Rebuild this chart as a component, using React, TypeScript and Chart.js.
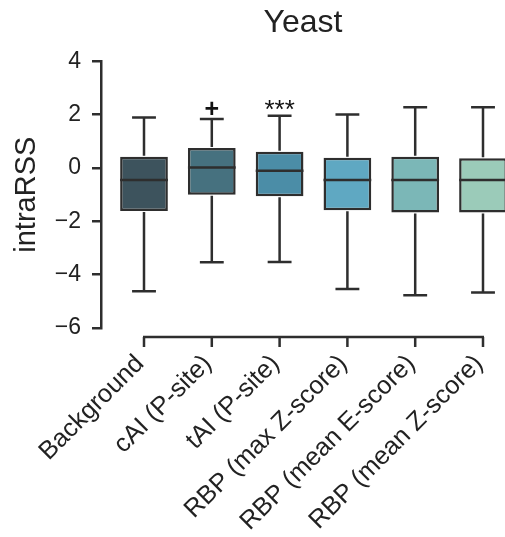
import React, { useEffect, useRef } from "react";
import { Chart, registerables } from "chart.js";

Chart.register(...registerables);

const categories = [
  "Background",
  "cAI (P-site)",
  "tAI (P-site)",
  "RBP (max Z-score)",
  "RBP (mean E-score)",
  "RBP (mean Z-score)",
];
const whiskerLow = [-4.62, -3.53, -3.52, -4.54, -4.77, -4.67];
const q1 = [-1.61, -1.0, -1.06, -1.58, -1.67, -1.67];
const median = [-0.45, 0.02, -0.1, -0.45, -0.45, -0.45];
const q3 = [0.42, 0.75, 0.61, 0.39, 0.42, 0.37];
const whiskerHigh = [1.9, 1.84, 1.96, 2.01, 2.28, 2.28];
const significance = ["", "+", "***", "", "", ""];
const boxColors = ["#3d535d", "#46717f", "#4b8da7", "#5fa8c2", "#7bb7b7", "#9bcbb9"];
const yTicks = [-6, -4, -2, 0, 2, 4];

const FONT = "'Liberation Sans', Arial, Helvetica, sans-serif";
const LINE = "#2e2e2e";
const LW = 2.5;

const boxPlugin = {
  id: "boxWhiskers",
  afterDatasetsDraw(chart: any) {
    const ctx = chart.ctx;
    const xs = chart.scales.x;
    const ys = chart.scales.y;
    const meta = chart.getDatasetMeta(0);
    ctx.save();
    ctx.strokeStyle = LINE;
    ctx.lineWidth = LW;
    ctx.lineCap = "butt";
    categories.forEach((_, i) => {
      const x = xs.getPixelForValue(i);
      const w = meta.data[i] ? meta.data[i].width : 48;
      const cap = w / 4;
      const yHi = ys.getPixelForValue(whiskerHigh[i]);
      const yQ3 = ys.getPixelForValue(q3[i]);
      const yQ1 = ys.getPixelForValue(q1[i]);
      const yLo = ys.getPixelForValue(whiskerLow[i]);
      const yMed = ys.getPixelForValue(median[i]);
      ctx.beginPath();
      ctx.moveTo(x, yQ3 - 1);
      ctx.lineTo(x, yHi);
      ctx.moveTo(x - cap, yHi);
      ctx.lineTo(x + cap, yHi);
      ctx.moveTo(x, yQ1 + 1);
      ctx.lineTo(x, yLo);
      ctx.moveTo(x - cap, yLo);
      ctx.lineTo(x + cap, yLo);
      ctx.moveTo(x - w / 2, yMed);
      ctx.lineTo(x + w / 2, yMed);
      ctx.stroke();
      const s = significance[i];
      if (s) {
        ctx.fillStyle = "#111111";
        ctx.font = s === "+" ? `bold 25px ${FONT}` : `26px ${FONT}`;
        ctx.textAlign = "center";
        ctx.textBaseline = "alphabetic";
        const m = ctx.measureText(s);
        const asc = m.actualBoundingBoxAscent;
        const desc = m.actualBoundingBoxDescent;
        const centerY = yHi - 11;
        ctx.fillText(s, x, centerY + (asc - desc) / 2);
      }
    });
    // offset x axis line with ticks
    const axisY = chart.chartArea.bottom + 9;
    const x0 = xs.getPixelForValue(0);
    const x1 = xs.getPixelForValue(categories.length - 1);
    ctx.beginPath();
    ctx.moveTo(x0 - 1, axisY);
    ctx.lineTo(x1 + 1, axisY);
    categories.forEach((_, i) => {
      const x = xs.getPixelForValue(i);
      ctx.moveTo(x, axisY);
      ctx.lineTo(x, axisY + 10);
    });
    ctx.stroke();
    ctx.restore();
  },
};

export default function App() {
  const ref = useRef<HTMLCanvasElement | null>(null);
  useEffect(() => {
    document.body.style.margin = "0";
    const canvas = ref.current;
    if (!canvas) return;
    const pxPerUnit = (483 - 144) / (categories.length - 1);
    const chart = new Chart(canvas, {
      type: "bar",
      data: {
        datasets: [
          {
            data: categories.map((_, i) => ({ x: i, y: [q1[i], q3[i]] })) as any,
            backgroundColor: boxColors,
            borderColor: LINE,
            borderWidth: LW,
            borderSkipped: false,
            categoryPercentage: 0.8,
            barPercentage: 0.88,
          },
        ],
      },
      options: {
        animation: false,
        responsive: false,
        devicePixelRatio: 1,
        layout: { padding: { left: 0, right: 0, top: 0, bottom: 0 } },
        plugins: {
          legend: { display: false },
          tooltip: { enabled: false },
          title: {
            display: true,
            text: "Yeast",
            fullSize: false,
            color: "#222222",
            font: { family: FONT, size: 32, weight: "normal" },
            padding: { top: 4, bottom: 19 },
          },
        },
        scales: {
          x: {
            type: "linear",
            offset: false,
            min: -(144 - 101) / pxPerUnit,
            max: categories.length - 1 + (505 - 483) / pxPerUnit,
            grid: { display: false, offset: false },
            border: { display: false },
            afterBuildTicks: (s: any) => {
              s.ticks = categories.map((_, i) => ({ value: i }));
            },
            afterFit: (s: any) => {
              s.height = 209;
              s.paddingLeft = 0;
              s.paddingRight = 0;
            },
            ticks: {
              autoSkip: false,
              minRotation: 45,
              maxRotation: 45,
              padding: 13,
              labelOffset: -4,
              color: "#222222",
              font: { family: FONT, size: 25.5 },
              callback: (v: any) => categories[Math.round(Number(v))] ?? "",
            },
          },
          y: {
            min: -6,
            max: 4,
            afterBuildTicks: (s: any) => {
              s.ticks = yTicks.map((v) => ({ value: v }));
            },
            afterFit: (s: any) => {
              s.width = 101;
            },
            grid: {
              drawOnChartArea: false,
              drawTicks: true,
              tickLength: 9,
              color: LINE,
              lineWidth: LW,
            },
            border: { display: true, color: LINE, width: LW },
            ticks: {
              padding: 11,
              color: "#222222",
              font: { family: FONT, size: 23 },
              callback: (v: any) => (Number(v) < 0 ? "\u2212" + Math.abs(Number(v)) : String(v)),
            },
            title: {
              display: true,
              text: "intraRSS",
              color: "#222222",
              font: { family: FONT, size: 29 },
              padding: { top: 10, bottom: 0 },
            },
          },
        },
      },
      plugins: [boxPlugin],
    });
    return () => chart.destroy();
  }, []);
  return (
    <div style={{ position: "absolute", left: 0, top: 0, width: 505, height: 537, background: "#fff" }}>
      <canvas ref={ref} width={505} height={537} style={{ width: 505, height: 537 }} />
    </div>
  );
}
